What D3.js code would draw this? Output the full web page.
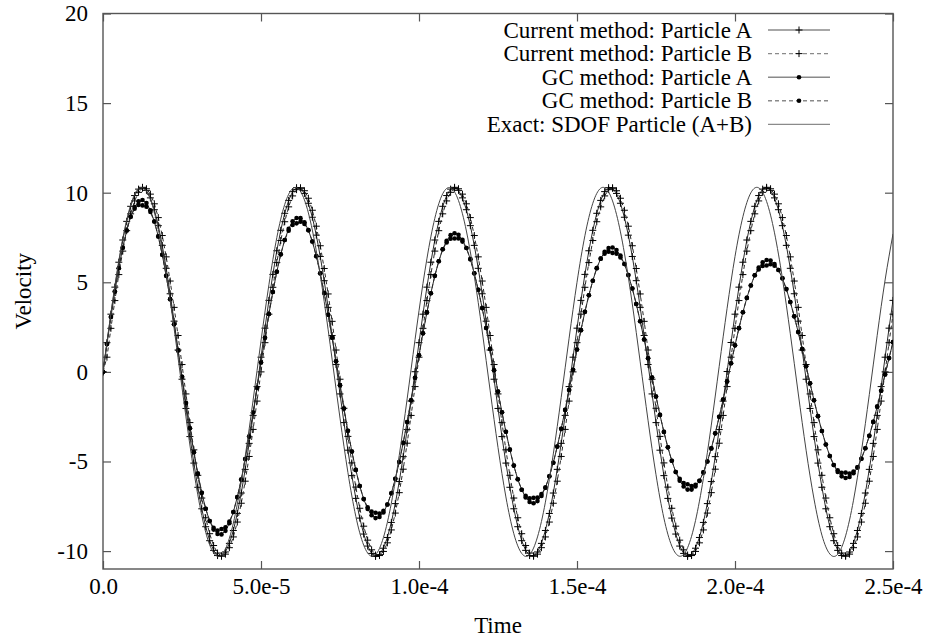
<!DOCTYPE html>
<html>
<head>
<meta charset="utf-8">
<script src="https://cdn.jsdelivr.net/npm/d3@7"></script>
<style>
  html, body { margin: 0; padding: 0; background: #fff; }
  svg { display: block; }
</style>
</head>
<body>
<svg id="chart" width="929" height="643"></svg>
<script>
// ---------------- data ----------------
const methodTimeStep = 1.25e-6;   // sampling interval of the method curves (s)
const exactTimeStep = 2.5e-6;     // sampling interval of the exact curve (s)

const currentA = [
  0,1.63,3.22,4.73,6.12,7.36,8.40,9.24,9.84,10.20,
  10.30,10.13,9.71,9.05,8.16,7.06,5.78,4.36,2.83,1.22,
  -0.41,-2.04,-3.61,-5.09,-6.44,-7.64,-8.64,-9.42,-9.96,-10.25,
  -10.28,-10.05,-9.57,-8.85,-7.90,-6.76,-5.44,-3.99,-2.43,-0.82,
  0.82,2.44,3.99,5.44,6.76,7.90,8.85,9.57,10.06,10.28,
  10.25,9.96,9.41,8.63,7.63,6.44,5.09,3.60,2.03,0.41,
  -1.23,-2.83,-4.37,-5.79,-7.06,-8.16,-9.05,-9.72,-10.13,-10.30,
  -10.20,-9.84,-9.24,-8.40,-7.35,-6.12,-4.73,-3.22,-1.63,0.01,
  1.63,3.22,4.73,6.12,7.36,8.40,9.24,9.84,10.20,10.30,
  10.13,9.71,9.05,8.16,7.06,5.78,4.36,2.83,1.22,-0.41,
  -2.04,-3.61,-5.09,-6.44,-7.64,-8.64,-9.42,-9.96,-10.25,-10.28,
  -10.05,-9.57,-8.85,-7.90,-6.76,-5.44,-3.99,-2.43,-0.82,0.82,
  2.44,3.99,5.44,6.76,7.90,8.85,9.57,10.06,10.28,10.25,
  9.96,9.41,8.63,7.63,6.44,5.09,3.60,2.03,0.41,-1.23,
  -2.83,-4.37,-5.79,-7.06,-8.16,-9.05,-9.72,-10.13,-10.30,-10.20,
  -9.84,-9.24,-8.40,-7.35,-6.12,-4.73,-3.22,-1.63,0.02,1.64,
  3.22,4.73,6.12,7.36,8.40,9.24,9.84,10.20,10.30,10.13,
  9.71,9.05,8.16,7.06,5.78,4.36,2.83,1.22,-0.41,-2.04,
  -3.61,-5.09,-6.44,-7.64,-8.64,-9.42,-9.96,-10.25,-10.28,-10.05,
  -9.57,-8.85,-7.90,-6.76,-5.44,-3.99,-2.43,-0.82,0.82,2.44,
  3.99
];

const currentB = [
  0,0.82,2.43,3.98,5.43,6.74,7.88,8.82,9.54,10.02,
  10.25,10.22,9.92,9.38,8.61,7.61,6.42,5.07,3.60,2.03,
  0.41,-1.23,-2.83,-4.35,-5.77,-7.04,-8.14,-9.03,-9.69,-10.11,
  -10.27,-10.17,-9.81,-9.21,-8.38,-7.33,-6.10,-4.72,-3.21,-1.63,
  0.00,1.63,3.22,4.72,6.10,7.33,8.38,9.21,9.82,10.17,
  10.27,10.11,9.69,9.02,8.13,7.04,5.77,4.35,2.82,1.22,
  -0.41,-2.03,-3.60,-5.08,-6.43,-7.61,-8.61,-9.39,-9.93,-10.22,
  -10.25,-10.02,-9.54,-8.82,-7.88,-6.74,-5.43,-3.98,-2.43,-0.82,
  0.82,2.43,3.98,5.43,6.74,7.88,8.82,9.54,10.02,10.25,
  10.22,9.92,9.38,8.61,7.61,6.42,5.07,3.60,2.03,0.41,
  -1.23,-2.83,-4.35,-5.77,-7.04,-8.14,-9.03,-9.69,-10.11,-10.27,
  -10.17,-9.81,-9.21,-8.38,-7.33,-6.10,-4.72,-3.21,-1.63,0.00,
  1.63,3.22,4.72,6.10,7.33,8.38,9.21,9.82,10.17,10.27,
  10.11,9.69,9.02,8.13,7.04,5.77,4.35,2.82,1.22,-0.41,
  -2.03,-3.60,-5.08,-6.43,-7.61,-8.61,-9.39,-9.93,-10.22,-10.25,
  -10.02,-9.54,-8.82,-7.88,-6.74,-5.43,-3.98,-2.43,-0.82,0.82,
  2.43,3.98,5.43,6.74,7.88,8.82,9.54,10.02,10.25,10.22,
  9.92,9.38,8.61,7.61,6.42,5.07,3.60,2.03,0.41,-1.23,
  -2.83,-4.35,-5.77,-7.04,-8.14,-9.03,-9.69,-10.11,-10.27,-10.17,
  -9.81,-9.21,-8.38,-7.33,-6.10,-4.72,-3.21,-1.63,0.00,1.63,
  3.22
];

const gcA = [
  0,1.55,3.06,4.48,5.78,6.93,7.89,8.66,9.20,9.52,
  9.59,9.42,9.02,8.39,7.56,6.54,5.36,4.06,2.66,1.20,
  -0.27,-1.74,-3.15,-4.48,-5.68,-6.75,-7.64,-8.32,-8.80,-9.05,
  -9.07,-8.87,-8.45,-7.82,-6.99,-6.01,-4.86,-3.61,-2.27,-0.89,
  0.52,1.90,3.23,4.46,5.59,6.56,7.36,7.98,8.40,8.59,
  8.58,8.35,7.91,7.28,6.46,5.50,4.40,3.19,1.91,0.59,
  -0.74,-2.04,-3.29,-4.44,-5.47,-6.37,-7.10,-7.65,-8.00,-8.16,
  -8.10,-7.85,-7.40,-6.77,-5.97,-5.03,-3.96,-2.80,-1.58,-0.33,
  0.93,2.15,3.32,4.39,5.36,6.17,6.84,7.32,7.63,7.74,
  7.65,7.37,6.91,6.29,5.50,4.58,3.56,2.45,1.28,0.09,
  -1.10,-2.25,-3.34,-4.34,-5.23,-5.99,-6.58,-7.01,-7.26,-7.33,
  -7.21,-6.92,-6.46,-5.83,-5.07,-4.17,-3.18,-2.12,-1.01,0.12,
  1.25,2.33,3.35,4.28,5.09,5.79,6.32,6.70,6.91,6.94,
  6.80,6.49,6.02,5.40,4.65,3.79,2.83,1.81,0.76,-0.32,
  -1.37,-2.40,-3.35,-4.21,-4.96,-5.59,-6.07,-6.40,-6.57,-6.57,
  -6.40,-6.08,-5.61,-5.00,-4.27,-3.43,-2.51,-1.54,-0.53,0.48,
  1.48,2.44,3.33,4.13,4.82,5.39,5.82,6.11,6.24,6.21,
  6.02,5.69,5.22,4.62,3.90,3.10,2.22,1.28,0.32,-0.64,
  -1.58,-2.47,-3.30,-4.05,-4.69,-5.20,-5.59,-5.83,-5.92,-5.87,
  -5.66,-5.33,-4.85,-4.26,-3.57,-2.79,-1.94,-1.05,-0.14,0.77,
  1.66
];

const gcB = [
  0,1.55,3.06,4.48,5.78,6.93,7.89,8.66,9.10,9.32,
  9.29,9.22,8.92,8.39,7.56,6.54,5.36,4.06,2.66,1.20,
  -0.27,-1.74,-3.15,-4.48,-5.68,-6.75,-7.64,-8.32,-8.70,-8.85,
  -8.77,-8.67,-8.35,-7.82,-6.99,-6.01,-4.86,-3.61,-2.27,-0.89,
  0.52,1.90,3.23,4.46,5.59,6.56,7.36,7.88,8.20,8.29,
  8.38,8.25,7.91,7.28,6.46,5.50,4.40,3.19,1.91,0.59,
  -0.74,-2.04,-3.29,-4.44,-5.47,-6.37,-7.10,-7.55,-7.80,-7.86,
  -7.90,-7.75,-7.40,-6.77,-5.97,-5.03,-3.96,-2.80,-1.58,-0.33,
  0.93,2.15,3.32,4.39,5.36,6.17,6.84,7.22,7.43,7.44,
  7.45,7.27,6.91,6.29,5.50,4.58,3.56,2.45,1.28,0.09,
  -1.10,-2.25,-3.34,-4.34,-5.23,-5.99,-6.58,-6.91,-7.06,-7.03,
  -7.01,-6.82,-6.46,-5.83,-5.07,-4.17,-3.18,-2.12,-1.01,0.12,
  1.25,2.33,3.35,4.28,5.09,5.79,6.32,6.60,6.71,6.64,
  6.60,6.39,6.02,5.40,4.65,3.79,2.83,1.81,0.76,-0.32,
  -1.37,-2.40,-3.35,-4.21,-4.96,-5.59,-5.97,-6.20,-6.27,-6.37,
  -6.30,-6.08,-5.61,-5.00,-4.27,-3.43,-2.51,-1.54,-0.53,0.48,
  1.48,2.44,3.33,4.13,4.82,5.39,5.72,5.91,5.94,6.01,
  5.92,5.69,5.22,4.62,3.90,3.10,2.22,1.28,0.32,-0.64,
  -1.58,-2.47,-3.30,-4.05,-4.69,-5.20,-5.49,-5.63,-5.62,-5.67,
  -5.56,-5.33,-4.85,-4.26,-3.57,-2.79,-1.94,-1.05,-0.14,0.77,
  1.66
];

const exactSDOF = [
  0,3.26,6.19,8.48,9.90,10.28,9.62,7.96,5.48,2.43,
  -0.87,-4.08,-6.86,-8.95,-10.10,-10.22,-9.28,-7.38,-4.72,-1.58,
  1.73,4.86,7.49,9.34,10.23,10.07,8.87,6.75,3.93,0.71,
  -2.58,-5.61,-8.06,-9.67,-10.29,-9.85,-8.39,-6.07,-3.12,
  0.15,3.41,6.31,8.57,9.94,10.27,9.56,7.86,5.35,2.28,
  -1.02,-4.22,-6.98,-9.03,-10.13,-10.20,-9.21,-7.27,-4.58,-1.43,
  1.88,5.00,7.60,9.41,10.25,10.04,8.79,6.63,3.79,0.56,
  -2.73,-5.74,-8.16,-9.72,-10.29,-9.81,-8.30,-5.94,-2.97,
  0.31,3.55,6.44,8.66,9.99,10.27,9.51,7.76,5.22,2.13,
  -1.18,-4.37,-7.09,-9.11,-10.16,-10.18,-9.15,-7.16,-4.44,-1.27,
  2.04,5.13,7.70
];

const xTickValues = [0, 5e-5, 1e-4, 1.5e-4, 2e-4, 2.5e-4];
const xTickLabels = ["0.0", "5.0e-5", "1.0e-4", "1.5e-4", "2.0e-4", "2.5e-4"];
const yTickValues = [-10, -5, 0, 5, 10, 15, 20];
const yTickLabels = ["-10", "-5", "0", "5", "10", "15", "20"];
const xDomain = [0, 2.5e-4];
const yDomain = [-11, 20];
const xTitle = "Time";
const yTitle = "Velocity";
const legendLabels = [
  "Current method: Particle A",
  "Current method: Particle B",
  "GC method: Particle A",
  "GC method: Particle B",
  "Exact: SDOF Particle (A+B)"
];

// ---------------- drawing ----------------
const FONT = "'Liberation Serif', 'Times New Roman', serif";
const FS = 23;
const svg = d3.select("#chart");
const L = 103, R = 893, T = 13.5, B = 569;
const x = d3.scaleLinear().domain(xDomain).range([L, R]);
const y = d3.scaleLinear().domain(yDomain).range([B, T]);
const axisColor = "#555";
const curveColor = "#2a2a2a";

svg.append("rect").attr("width", 929).attr("height", 643).attr("fill", "#fff");

svg.append("clipPath").attr("id", "plotclip")
  .append("rect").attr("x", L).attr("y", T - 1).attr("width", R - L).attr("height", B - T + 2);

function styleAxis(g) {
  g.select(".domain").remove();
  g.attr("font-family", FONT).attr("font-size", FS);
  g.selectAll(".tick line").attr("stroke", axisColor).attr("stroke-width", 1.2);
  g.selectAll(".tick text").attr("fill", "#000");
}

svg.append("g").attr("transform", `translate(0,${B})`)
  .call(d3.axisBottom(x).tickValues(xTickValues).tickFormat((d, i) => xTickLabels[i]).tickSize(-8).tickPadding(9))
  .call(styleAxis);
svg.append("g").attr("transform", `translate(0,${T})`)
  .call(d3.axisTop(x).tickValues(xTickValues).tickFormat("").tickSize(-8))
  .call(styleAxis);
svg.append("g").attr("transform", `translate(${L},0)`)
  .call(d3.axisLeft(y).tickValues(yTickValues).tickFormat((d, i) => yTickLabels[i]).tickSize(-8).tickPadding(15))
  .call(styleAxis);
svg.append("g").attr("transform", `translate(${R},0)`)
  .call(d3.axisRight(y).tickValues(yTickValues).tickFormat("").tickSize(-8))
  .call(styleAxis);

svg.append("rect").attr("x", L).attr("y", T).attr("width", R - L).attr("height", B - T)
  .attr("fill", "none").attr("stroke", axisColor).attr("stroke-width", 1.4);

svg.append("text").attr("x", (L + R) / 2).attr("y", 633).attr("text-anchor", "middle")
  .attr("font-family", FONT).attr("font-size", FS).text(xTitle);
svg.append("text").attr("transform", `translate(31,${(T + B) / 2}) rotate(-90)`)
  .attr("text-anchor", "middle").attr("font-family", FONT).attr("font-size", FS).text(yTitle);

const plot = svg.append("g").attr("clip-path", "url(#plotclip)");
const plusPath = "M-3.5,0H3.5M0,-3.5V3.5";

const series = [
  { values: currentA, step: methodTimeStep, dash: null, marker: "plus", smooth: false, color: curveColor },
  { values: currentB, step: methodTimeStep, dash: "4,3", marker: "plus", smooth: false, color: curveColor },
  { values: gcA, step: methodTimeStep, dash: null, marker: "dot", smooth: false, color: curveColor },
  { values: gcB, step: methodTimeStep, dash: "4,3", marker: "dot", smooth: false, color: curveColor },
  { values: exactSDOF, step: exactTimeStep, dash: null, marker: null, smooth: true, color: "#444" }
];

function drawMarker(sel, kind) {
  if (kind === "plus") {
    sel.append("path").attr("d", plusPath).attr("stroke", "#000").attr("stroke-width", 1).attr("fill", "none");
  } else if (kind === "dot") {
    sel.append("circle").attr("r", 2.3).attr("fill", "#000");
  }
}

series.forEach(s => {
  const line = d3.line()
    .x((d, i) => x(i * s.step))
    .y(d => y(d))
    .curve(s.smooth ? d3.curveNatural : d3.curveLinear);
  plot.append("path").datum(s.values)
    .attr("d", line)
    .attr("fill", "none")
    .attr("stroke", s.color)
    .attr("stroke-width", 1)
    .attr("stroke-dasharray", s.dash);
  if (s.marker) {
    const g = plot.append("g");
    s.values.forEach((v, i) => {
      const m = g.append("g").attr("transform", `translate(${x(i * s.step)},${y(v)})`);
      drawMarker(m, s.marker);
    });
  }
});

const legendTop = 30, legendGap = 23.6;
const legend = svg.append("g");
legendLabels.forEach((lab, i) => {
  const ly = legendTop + i * legendGap;
  legend.append("text").attr("x", 752).attr("y", ly + 7.5).attr("text-anchor", "end")
    .attr("font-family", FONT).attr("font-size", FS).text(lab);
  legend.append("line").attr("x1", 768).attr("x2", 830).attr("y1", ly).attr("y2", ly)
    .attr("stroke", "#8a8a8a").attr("stroke-width", 1.4)
    .attr("stroke-dasharray", series[i].dash);
  const m = legend.append("g").attr("transform", `translate(799,${ly})`);
  drawMarker(m, series[i].marker);
});
</script>
</body>
</html>
